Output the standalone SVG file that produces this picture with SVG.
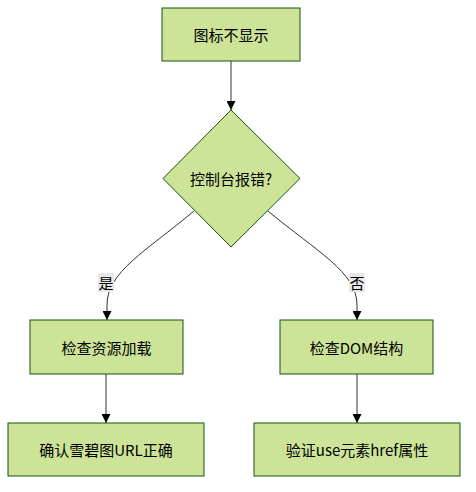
<svg xmlns="http://www.w3.org/2000/svg" width="476" height="492" viewBox="0 0 476 492">
<defs>
<style>
.node rect,.node polygon{fill:#cde498;stroke:#13540c;stroke-width:1}
.lbl{font-family:"Noto Sans CJK SC","Noto Sans",sans-serif;font-size:15px;fill:#000;text-anchor:middle;dominant-baseline:central}
.edge{fill:none;stroke:#333;stroke-width:1}
.elbg{fill:#e8e8e8}
</style>
<marker id="arr" viewBox="0 0 10 10" refX="10" refY="5" markerWidth="9" markerHeight="9" orient="auto" markerUnits="userSpaceOnUse">
<path d="M0,0 L10,5 L0,10 z" fill="#000"/>
</marker>
</defs>
<g id="connectors">
<path class="edge" d="M231,61 L231,110" marker-end="url(#arr)"/>
<path class="edge" d="M194,211 C145,252 107,272 107,305 L107,320" marker-end="url(#arr)"/>
<path class="edge" d="M268,211 C317,252 357,272 357,305 L357,320" marker-end="url(#arr)"/>
<path class="edge" d="M106,374 L106,423" marker-end="url(#arr)"/>
<path class="edge" d="M357,374 L357,423" marker-end="url(#arr)"/>
<rect class="elbg" x="98" y="273" width="16" height="19"/>
<text class="lbl" x="106" y="282">是</text>
<rect class="elbg" x="349" y="273" width="16" height="19"/>
<text class="lbl" x="357" y="282">否</text>
</g>
<g id="A" class="node"><rect x="162" y="8" width="138" height="53"/><text class="lbl" x="231" y="34.5">图标不显示</text></g>
<g id="B" class="node"><polygon points="231,110 300,178.5 231,247 163,178.5"/><text class="lbl" x="231" y="178.5">控制台报错?</text></g>
<g id="C" class="node"><rect x="30" y="320" width="153" height="54"/><text class="lbl" x="106.5" y="347">检查资源加载</text></g>
<g id="D" class="node"><rect x="280" y="320" width="153" height="54"/><text class="lbl" x="356.5" y="347">检查DOM结构</text></g>
<g id="E" class="node"><rect x="8" y="423" width="196" height="53"/><text class="lbl" x="106" y="449.5">确认雪碧图URL正确</text></g>
<g id="F" class="node"><rect x="254" y="423" width="206" height="53"/><text class="lbl" x="357" y="449.5">验证use元素href属性</text></g>
</svg>
